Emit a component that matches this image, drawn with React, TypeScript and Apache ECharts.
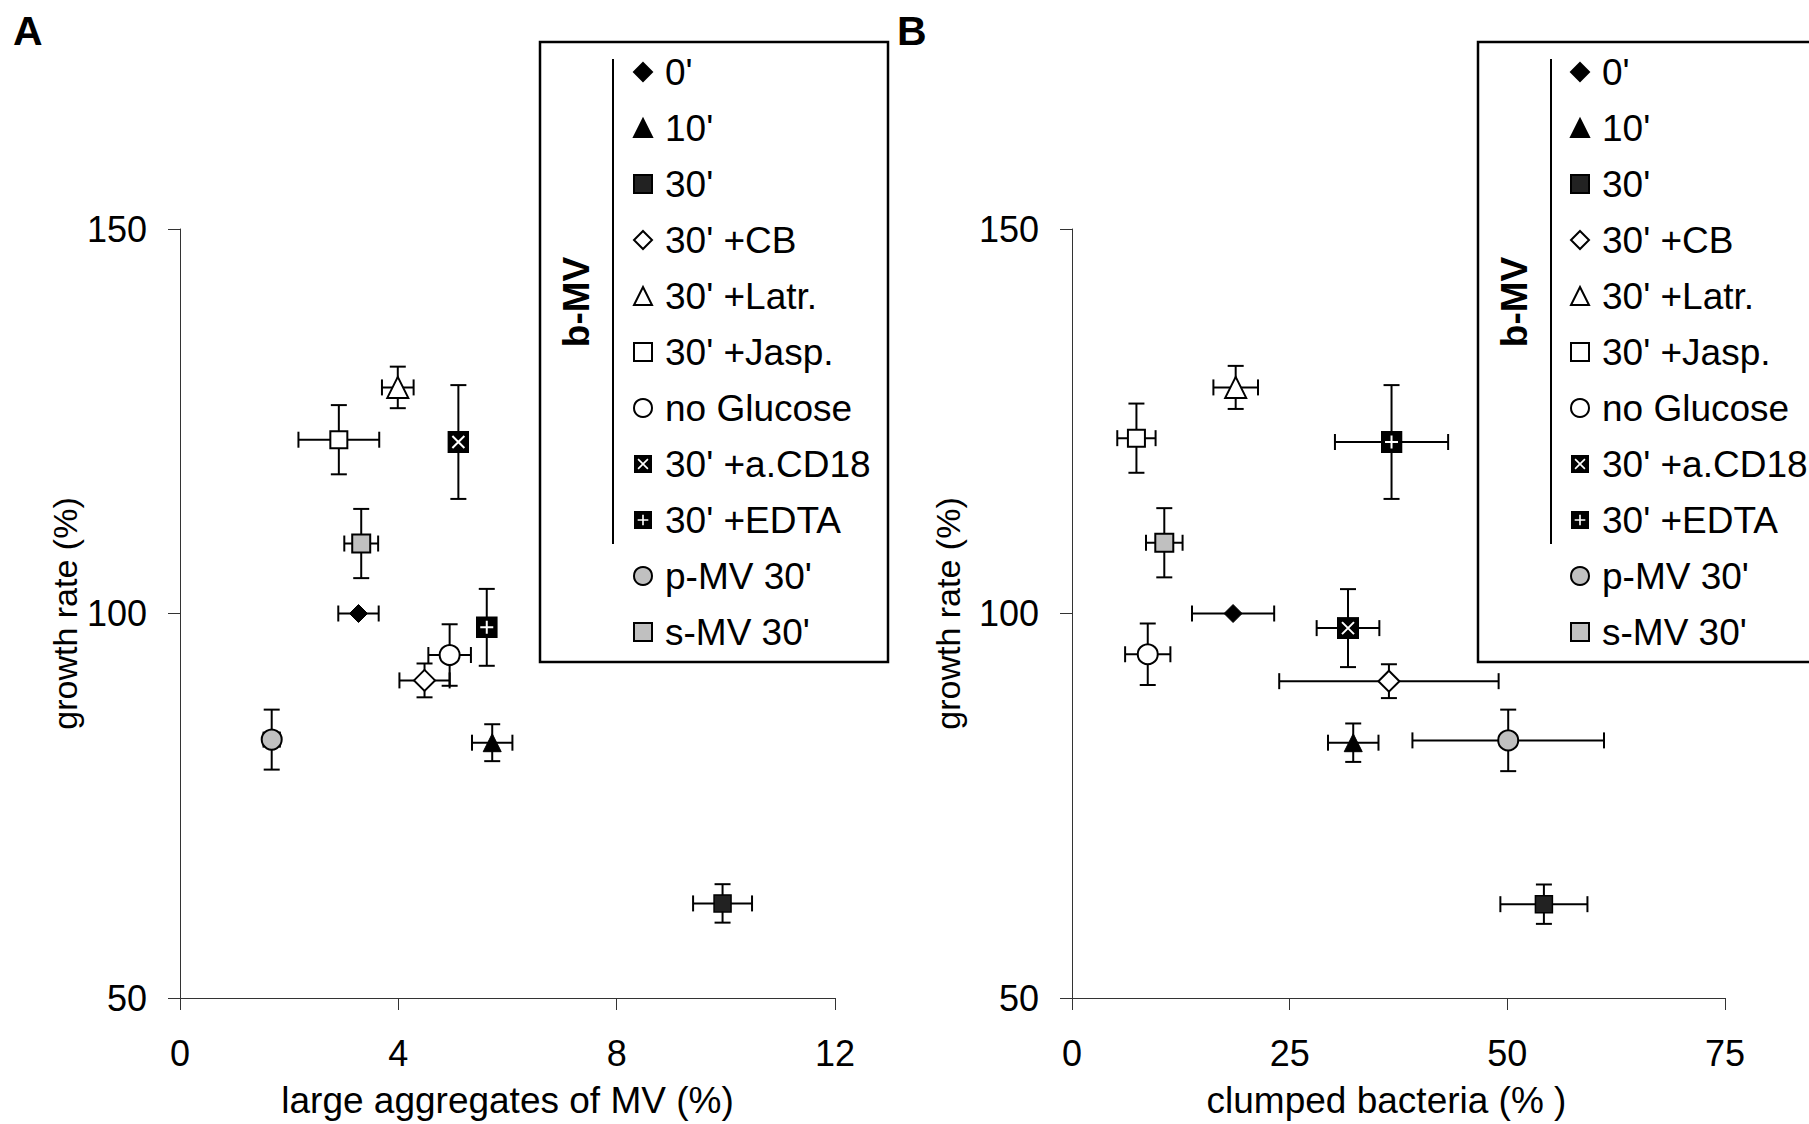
import React, { useEffect, useRef } from "react";
import * as echarts from "echarts";

const groups = ["0'", "10'", "30'", "30' +CB", "30' +Latr.", "30' +Jasp.", "no Glucose", "30' +a.CD18", "30' +EDTA", "p-MV 30'", "s-MV 30'"];

// Panel A: large aggregates of MV (%) vs growth rate (%)
const aggregatesX = [3.27, 5.72, 9.94, 4.48, 3.99, 2.91, 4.94, 5.10, 5.62, 1.68, 3.32];
const aggregatesXErr = [0.37, 0.37, 0.54, 0.46, 0.29, 0.74, 0.39, 0, 0, 0.15, 0.31];
const growthA = [100, 83.2, 62.3, 91.3, 129.4, 122.6, 94.6, 122.3, 98.2, 83.6, 109.1];
const growthAErr = [0, 2.4, 2.5, 2.2, 2.7, 4.5, 4.0, 7.4, 5.0, 3.9, 4.5];

// Panel B: clumped bacteria (%) vs growth rate (%)
const clumpedX = [18.5, 32.3, 54.2, 36.4, 18.8, 7.4, 8.7, 31.7, 36.7, 50.1, 10.6];
const clumpedXErr = [4.72, 2.9, 5.0, 12.6, 2.56, 2.2, 2.6, 3.6, 6.5, 11.0, 2.1];
const growthB = [100, 83.2, 62.2, 91.2, 129.4, 122.8, 94.7, 98.1, 122.3, 83.5, 109.2];
const growthBErr = [0, 2.5, 2.56, 2.2, 2.8, 4.5, 4.0, 5.07, 7.4, 4.0, 4.5];

const xTicksA = [0, 4, 8, 12];
const xTicksB = [0, 25, 50, 75];
const yTicks = [50, 100, 150];

const FONT = "'Liberation Sans', Arial, sans-serif";

const svgUri = (s: string) => "image://data:image/svg+xml;charset=utf-8," + encodeURIComponent(s);
const X_BOX = svgUri(
  '<svg xmlns="http://www.w3.org/2000/svg" width="44" height="44" viewBox="0 0 22 22"><rect x="0" y="0" width="22" height="22" fill="#000"/><path d="M5 5L17 17M17 5L5 17" stroke="#fff" stroke-width="2" fill="none"/></svg>'
);
const PLUS_BOX = svgUri(
  '<svg xmlns="http://www.w3.org/2000/svg" width="44" height="44" viewBox="0 0 22 22"><rect x="0" y="0" width="22" height="22" fill="#000"/><path d="M11 4.5V17.5M4.5 11H17.5" stroke="#fff" stroke-width="2" fill="none"/></svg>'
);

const markerStyles: any[] = [
  { symbol: "diamond", size: 18, fill: "#000", bw: 1 },
  { symbol: "triangle", size: 18, fill: "#000", bw: 1 },
  { symbol: "rect", size: 17, fill: "#222", bw: 1.5 },
  { symbol: "diamond", size: 21, fill: "#fff", bw: 2 },
  { symbol: "triangle", size: 21, fill: "#fff", bw: 2 },
  { symbol: "rect", size: 17, fill: "#fff", bw: 2 },
  { symbol: "circle", size: 20, fill: "#fff", bw: 2 },
  { symbol: X_BOX, size: 22, fill: "#000", bw: 0 },
  { symbol: PLUS_BOX, size: 22, fill: "#000", bw: 0 },
  { symbol: "circle", size: 20, fill: "#c0c0c0", bw: 2 },
  { symbol: "rect", size: 18, fill: "#c0c0c0", bw: 2 },
];

function errorRender(params: any, api: any) {
  const x = api.value(0);
  const y = api.value(1);
  const ex = api.value(2);
  const ey = api.value(3);
  const children: any[] = [];
  const st = { stroke: "#000", lineWidth: 2 };
  const cap = 8;
  if (ex > 0) {
    const p1 = api.coord([x - ex, y]);
    const p2 = api.coord([x + ex, y]);
    children.push({ type: "line", shape: { x1: p1[0], y1: p1[1], x2: p2[0], y2: p2[1] }, style: st });
    children.push({ type: "line", shape: { x1: p1[0], y1: p1[1] - cap, x2: p1[0], y2: p1[1] + cap }, style: st });
    children.push({ type: "line", shape: { x1: p2[0], y1: p2[1] - cap, x2: p2[0], y2: p2[1] + cap }, style: st });
  }
  if (ey > 0) {
    const p1 = api.coord([x, y - ey]);
    const p2 = api.coord([x, y + ey]);
    children.push({ type: "line", shape: { x1: p1[0], y1: p1[1], x2: p2[0], y2: p2[1] }, style: st });
    children.push({ type: "line", shape: { x1: p1[0] - cap, y1: p1[1], x2: p1[0] + cap, y2: p1[1] }, style: st });
    children.push({ type: "line", shape: { x1: p2[0] - cap, y1: p2[1], x2: p2[0] + cap, y2: p2[1] }, style: st });
  }
  return { type: "group", children };
}

function axisCommon() {
  return {
    type: "value",
    axisLine: { show: true, lineStyle: { color: "#333", width: 1 } },
    axisTick: { show: true, inside: false, length: 12, lineStyle: { color: "#333", width: 1 } },
    splitLine: { show: false },
    nameLocation: "middle",
    nameTextStyle: { fontSize: 37, color: "#000", fontFamily: FONT },
  };
}

export default function App() {
  const ref = useRef<HTMLDivElement>(null);
  useEffect(() => {
    if (!ref.current) return;
    const chart = echarts.init(ref.current, null, { renderer: "svg" });

    const series: any[] = [];
    const panels = [
      { xs: aggregatesX, xe: aggregatesXErr, ys: growthA, ye: growthAErr },
      { xs: clumpedX, xe: clumpedXErr, ys: growthB, ye: growthBErr },
    ];
    panels.forEach((p, pi) => {
      series.push({
        type: "custom",
        name: "err" + pi,
        xAxisIndex: pi,
        yAxisIndex: pi,
        renderItem: errorRender,
        encode: { x: 0, y: 1 },
        data: groups.map((_, i) => [p.xs[i], p.ys[i], p.xe[i], p.ye[i]]),
        z: 2,
        silent: true,
      });
      groups.forEach((g, i) => {
        const m = markerStyles[i];
        series.push({
          type: "scatter",
          name: g,
          xAxisIndex: pi,
          yAxisIndex: pi,
          symbol: m.symbol,
          symbolSize: m.size,
          itemStyle: { color: m.fill, borderColor: "#000", borderWidth: m.bw, opacity: 1 },
          data: [[p.xs[i], p.ys[i]]],
          z: 5,
        });
      });
    });

    const legendBase = {
      data: groups,
      orient: "vertical",
      top: 52,
      itemWidth: 18,
      itemHeight: 18,
      itemGap: 16,
      padding: 0,
      selectedMode: false,
      textStyle: { fontSize: 37, lineHeight: 40, color: "#000", fontFamily: FONT, padding: [0, 0, 0, 8] },
    };

    const yAxisBase = (gap: number) => ({
      ...axisCommon(),
      min: 50,
      max: 150,
      interval: 50,
      name: "growth rate (%)",
      nameGap: gap,
      nameTextStyle: { fontSize: 34, color: "#000", fontFamily: FONT },
      axisLabel: { fontSize: 36, color: "#000", margin: 33, fontFamily: FONT, customValues: yTicks },
    });

    const boxes = [540, 1478];
    const option: any = {
      animation: false,
      backgroundColor: "#fff",
      textStyle: { fontFamily: FONT },
      grid: [
        { left: 180, top: 229, width: 655, height: 770 },
        { left: 1072, top: 229, width: 653, height: 770 },
      ],
      xAxis: [
        {
          ...axisCommon(),
          gridIndex: 0,
          min: 0,
          max: 12,
          interval: 4,
          name: "large aggregates of MV (%)",
          nameGap: 84,
          axisLabel: { fontSize: 36, color: "#000", margin: 37, fontFamily: FONT, customValues: xTicksA },
        },
        {
          ...axisCommon(),
          gridIndex: 1,
          min: 0,
          max: 75,
          interval: 25,
          name: "clumped bacteria (% )",
          nameGap: 84,
          nameTextStyle: { fontSize: 37, color: "#000", fontFamily: FONT, padding: [0, 24, 0, 0] },
          axisLabel: { fontSize: 36, color: "#000", margin: 37, fontFamily: FONT, customValues: xTicksB },
        },
      ],
      yAxis: [
        { ...yAxisBase(98), gridIndex: 0 },
        { ...yAxisBase(107), gridIndex: 1 },
      ],
      legend: [
        { ...legendBase, left: 633 },
        { ...legendBase, left: 1570 },
      ],
      graphic: [
        { type: "text", left: 13, top: 10, style: { text: "A", fontSize: 41, fontWeight: "bold", fill: "#000", fontFamily: FONT } },
        { type: "text", left: 897, top: 10, style: { text: "B", fontSize: 41, fontWeight: "bold", fill: "#000", fontFamily: FONT } },
        ...boxes.flatMap((bx) => [
          {
            type: "rect",
            shape: { x: bx, y: 42, width: 348, height: 620 },
            style: { fill: "none", stroke: "#000", lineWidth: 2.5 },
            z: 1,
          },
          {
            type: "line",
            shape: { x1: bx + 73, y1: 59, x2: bx + 73, y2: 544 },
            style: { stroke: "#000", lineWidth: 2 },
            z: 1,
          },
          {
            type: "text",
            x: bx + 36,
            y: 302,
            rotation: Math.PI / 2,
            style: { text: "b-MV", fontSize: 37, fontWeight: "bold", fill: "#000", fontFamily: FONT, align: "center", verticalAlign: "middle" },
            z: 1,
          },
        ]),
      ],
      series,
    };
    chart.setOption(option);
    return () => chart.dispose();
  }, []);
  return <div ref={ref} style={{ position: "fixed", left: 0, top: 0, width: 1809, height: 1124, background: "#fff" }} />;
}
